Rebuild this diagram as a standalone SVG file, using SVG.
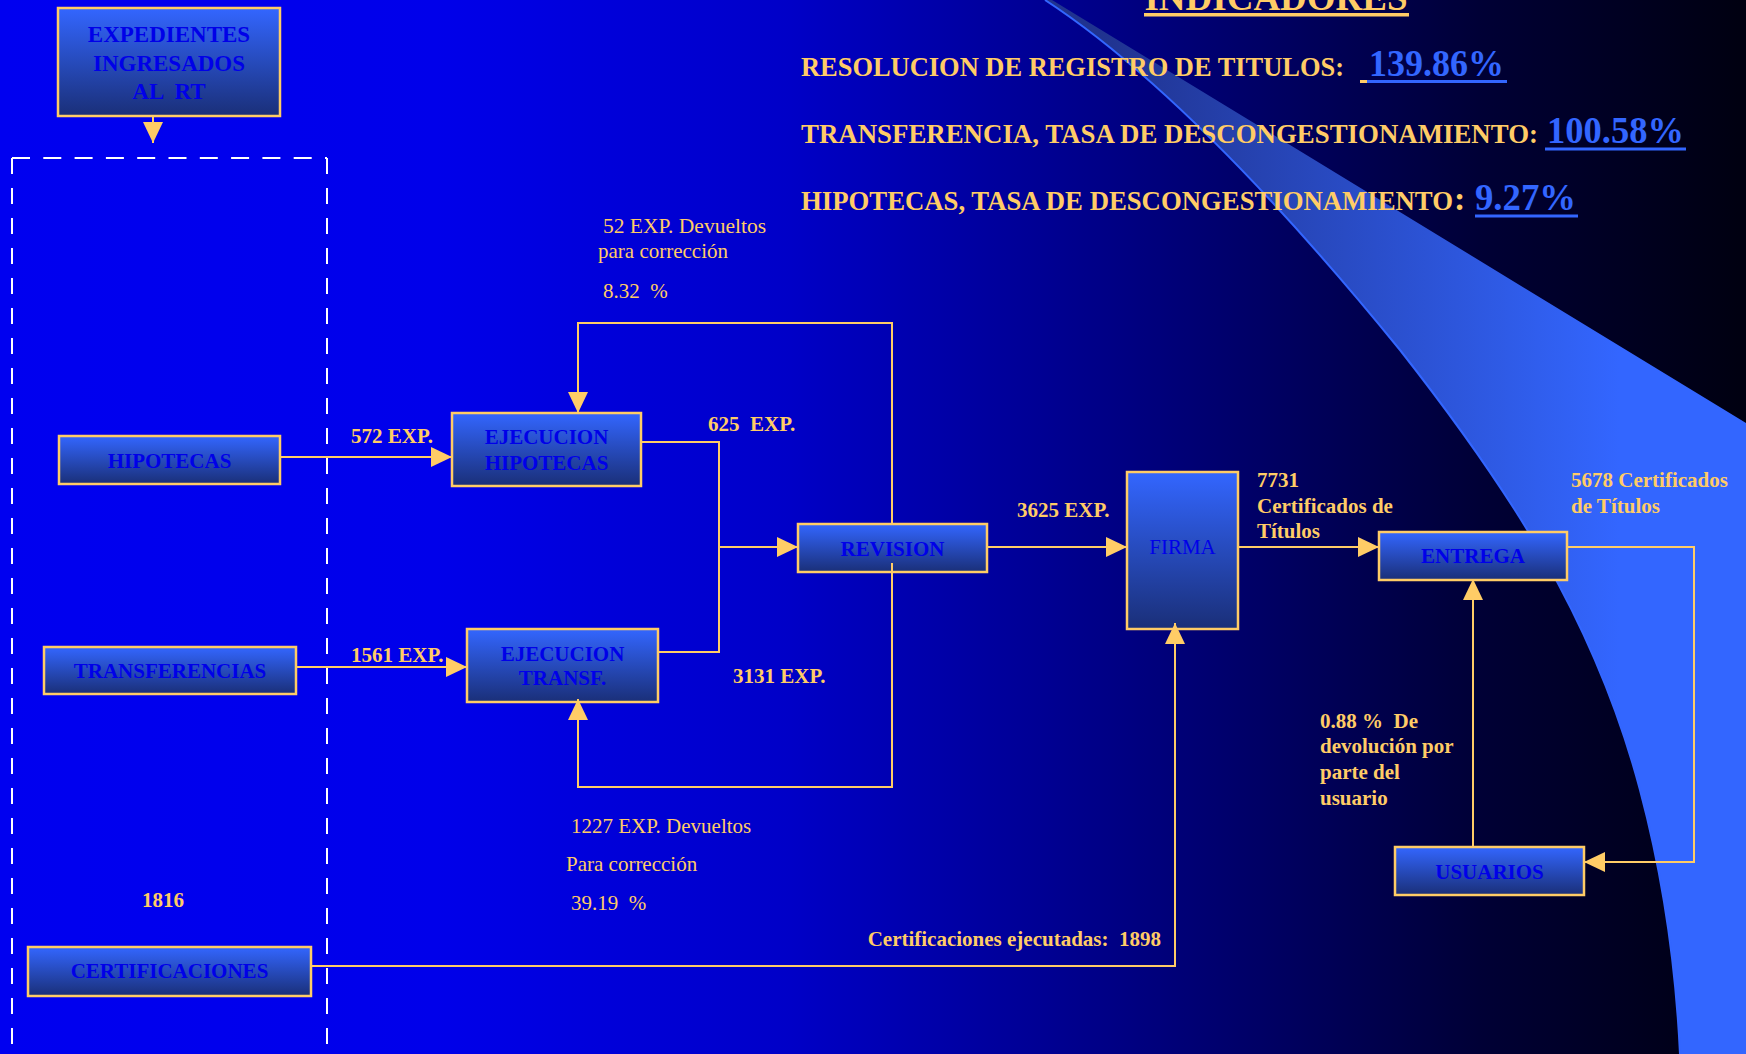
<svg xmlns="http://www.w3.org/2000/svg" width="1746" height="1054" viewBox="0 0 1746 1054" xml:space="preserve">
<defs>
<linearGradient id="bg" x1="0" y1="0" x2="1746" y2="0" gradientUnits="userSpaceOnUse">
<stop offset="0" stop-color="#0000F0"/>
<stop offset="0.25" stop-color="#0000EA"/>
<stop offset="0.45" stop-color="#0000C8"/>
<stop offset="0.65" stop-color="#000080"/>
<stop offset="0.85" stop-color="#000035"/>
<stop offset="1" stop-color="#000010"/>
</linearGradient>
<linearGradient id="sw" x1="1100" y1="0" x2="1620" y2="0" gradientUnits="userSpaceOnUse">
<stop offset="0" stop-color="#20338F"/>
<stop offset="1" stop-color="#3366FF"/>
</linearGradient>
<linearGradient id="ng" x1="0" y1="0" x2="0" y2="1">
<stop offset="0" stop-color="#3366FF"/>
<stop offset="1" stop-color="#1A2F78"/>
</linearGradient>
<marker id="ah" markerUnits="userSpaceOnUse" markerWidth="21" markerHeight="20" refX="21" refY="10" orient="auto" viewBox="0 0 21 20">
<path d="M0,0 L21,10 L0,20 z" fill="#FFCC66"/>
</marker>
<style>
text{white-space:pre}
.node rect{fill:url(#ng);stroke:#FFCC66;stroke-width:2.5}
.nt{font-family:"Liberation Serif","Times New Roman",serif;font-weight:bold;font-size:21px;fill:#0000E8;text-anchor:middle}
.lbl{font-family:"Liberation Serif","Times New Roman",serif;font-weight:bold;font-size:21px;fill:#FFCC66}
.lr{font-family:"Liberation Serif","Times New Roman",serif;font-size:21px;fill:#FFCC66}
.ind{font-family:"Liberation Serif","Times New Roman",serif;font-weight:bold;font-size:26.5px;fill:#FFCC66}
.num{font-family:"Liberation Serif","Times New Roman",serif;font-weight:bold;font-size:38px;fill:#3366FF}
.conn path{stroke:#FFCC66;stroke-width:2;fill:none}
.arr{marker-end:url(#ah)}
.dash line{stroke:#FFFFFF;stroke-width:2}
</style>
</defs>
<rect x="0" y="0" width="1746" height="1054" fill="url(#bg)"/>
<path d="M1045,0 C1160,75 1290,215 1400,350 C1510,490 1595,620 1640,790 C1664,880 1676,970 1680,1054 L1746,1054 L1746,423 L1052,0 Z" fill="url(#sw)"/>
<path d="M1045,0 C1160,75 1290,215 1400,350 C1510,490 1595,620 1640,790 C1664,880 1676,970 1680,1054" fill="none" stroke="#3366FF" stroke-width="2"/>

<g id="indicadores">
<text class="ind" x="1276" y="10" text-anchor="middle" style="font-size:37px">INDICADORES</text>
<rect x="1144" y="13" width="265" height="3.5" fill="#FFCC66"/>
<text class="ind" x="801" y="76" textLength="543" lengthAdjust="spacingAndGlyphs">RESOLUCION DE REGISTRO DE TITULOS:</text>
<text class="num" x="1369" y="76" textLength="135" lengthAdjust="spacingAndGlyphs">139.86%</text>
<rect x="1360" y="80" width="7" height="3" fill="#FFCC66"/>
<rect x="1367" y="80" width="140" height="3" fill="#3366FF"/>
<text class="ind" x="801" y="143" textLength="737" lengthAdjust="spacingAndGlyphs">TRANSFERENCIA, TASA DE DESCONGESTIONAMIENTO:</text>
<text class="num" x="1547" y="143" textLength="137" lengthAdjust="spacingAndGlyphs">100.58%</text>
<rect x="1545" y="147.5" width="141" height="3" fill="#3366FF"/>
<text class="ind" x="801" y="210" textLength="652" lengthAdjust="spacingAndGlyphs">HIPOTECAS, TASA DE DESCONGESTIONAMIENTO</text>
<text class="ind" x="1454" y="210" style="font-size:34px">:</text>
<text class="num" x="1475" y="210" textLength="101" lengthAdjust="spacingAndGlyphs">9.27%</text>
<rect x="1475" y="214.5" width="103" height="3" fill="#3366FF"/>
</g>

<g id="region" class="dash">
<line x1="12" y1="158" x2="327" y2="158" stroke-dasharray="18 13.3"/>
<line x1="12" y1="158" x2="12" y2="1054" stroke-dasharray="16 14"/>
<line x1="327" y1="158" x2="327" y2="1054" stroke-dasharray="16 14"/>
</g>

<g id="n-expedientes" class="node">
<rect x="58" y="8" width="222" height="108"/>
<text class="nt" x="169" y="42" style="font-size:23px">EXPEDIENTES</text>
<text class="nt" x="169" y="71" style="font-size:23px">INGRESADOS</text>
<text class="nt" x="169" y="99" style="font-size:23px">AL  RT</text>
</g>
<g id="n-hipotecas" class="node">
<rect x="59" y="436" width="221" height="48"/>
<text class="nt" x="169.5" y="468">HIPOTECAS</text>
</g>
<g id="n-transferencias" class="node">
<rect x="44" y="647" width="252" height="47"/>
<text class="nt" x="170" y="678">TRANSFERENCIAS</text>
</g>
<g id="n-certificaciones" class="node">
<rect x="28" y="947" width="283" height="49"/>
<text class="nt" x="169.5" y="978">CERTIFICACIONES</text>
</g>
<g id="n-ejec-hip" class="node">
<rect x="452" y="413" width="189" height="73"/>
<text class="nt" x="546.5" y="444">EJECUCION</text>
<text class="nt" x="546.5" y="470">HIPOTECAS</text>
</g>
<g id="n-ejec-transf" class="node">
<rect x="467" y="629" width="191" height="73"/>
<text class="nt" x="562.5" y="661">EJECUCION</text>
<text class="nt" x="562.5" y="685">TRANSF.</text>
</g>
<g id="n-revision" class="node">
<rect x="798" y="524" width="189" height="48"/>
<text class="nt" x="892.5" y="556">REVISION</text>
</g>
<g id="n-firma" class="node">
<rect x="1127" y="472" width="111" height="157"/>
<text class="nt" x="1182.5" y="554" style="font-weight:normal">FIRMA</text>
</g>
<g id="n-entrega" class="node">
<rect x="1379" y="532" width="188" height="48"/>
<text class="nt" x="1473" y="563">ENTREGA</text>
</g>
<g id="n-usuarios" class="node">
<rect x="1395" y="847" width="189" height="48"/>
<text class="nt" x="1489.5" y="879">USUARIOS</text>
</g>

<g id="connectors" class="conn">
<path class="arr" d="M153,116 V143"/>
<path class="arr" d="M280,457 H452"/>
<path class="arr" d="M296,667 H467"/>
<path d="M641,442 H719 V652 H658"/>
<path class="arr" d="M719,547 H798"/>
<path class="arr" d="M892,524 V323 H578 V413"/>
<path class="arr" d="M892,563 V787 H578 V699"/>
<path class="arr" d="M987,547 H1127"/>
<path class="arr" d="M1238,547 H1379"/>
<path class="arr" d="M1567,547 H1694 V862 H1584"/>
<path class="arr" d="M1473,847 V579"/>
<path class="arr" d="M311,966 H1175 V623"/>
</g>

<g id="labels">
<text class="lbl" x="351" y="443">572 EXP.</text>
<text class="lbl" x="351" y="662">1561 EXP.</text>
<text class="lbl" x="708" y="431">625  EXP.</text>
<text class="lbl" x="733" y="683">3131 EXP.</text>
<text class="lbl" x="1017" y="517">3625 EXP.</text>
<text class="lbl" x="1257" y="487">7731</text>
<text class="lbl" x="1257" y="513">Certificados de</text>
<text class="lbl" x="1257" y="538">Títulos</text>
<text class="lbl" x="1571" y="487">5678 Certificados</text>
<text class="lbl" x="1571" y="513">de Títulos</text>
<text class="lbl" x="1320" y="728">0.88 %  De</text>
<text class="lbl" x="1320" y="753">devolución por</text>
<text class="lbl" x="1320" y="779">parte del</text>
<text class="lbl" x="1320" y="805">usuario</text>
<text class="lbl" x="1161" y="946" text-anchor="end">Certificaciones ejecutadas:  1898</text>
<text class="lbl" x="142" y="907">1816</text>
<text class="lr" x="603" y="233" textLength="163" lengthAdjust="spacingAndGlyphs">52 EXP. Devueltos</text>
<text class="lr" x="598" y="258">para corrección</text>
<text class="lr" x="603" y="298">8.32  %</text>
<text class="lr" x="571" y="833">1227 EXP. Devueltos</text>
<text class="lr" x="566" y="871">Para corrección</text>
<text class="lr" x="571" y="910">39.19  %</text>
</g>
</svg>
